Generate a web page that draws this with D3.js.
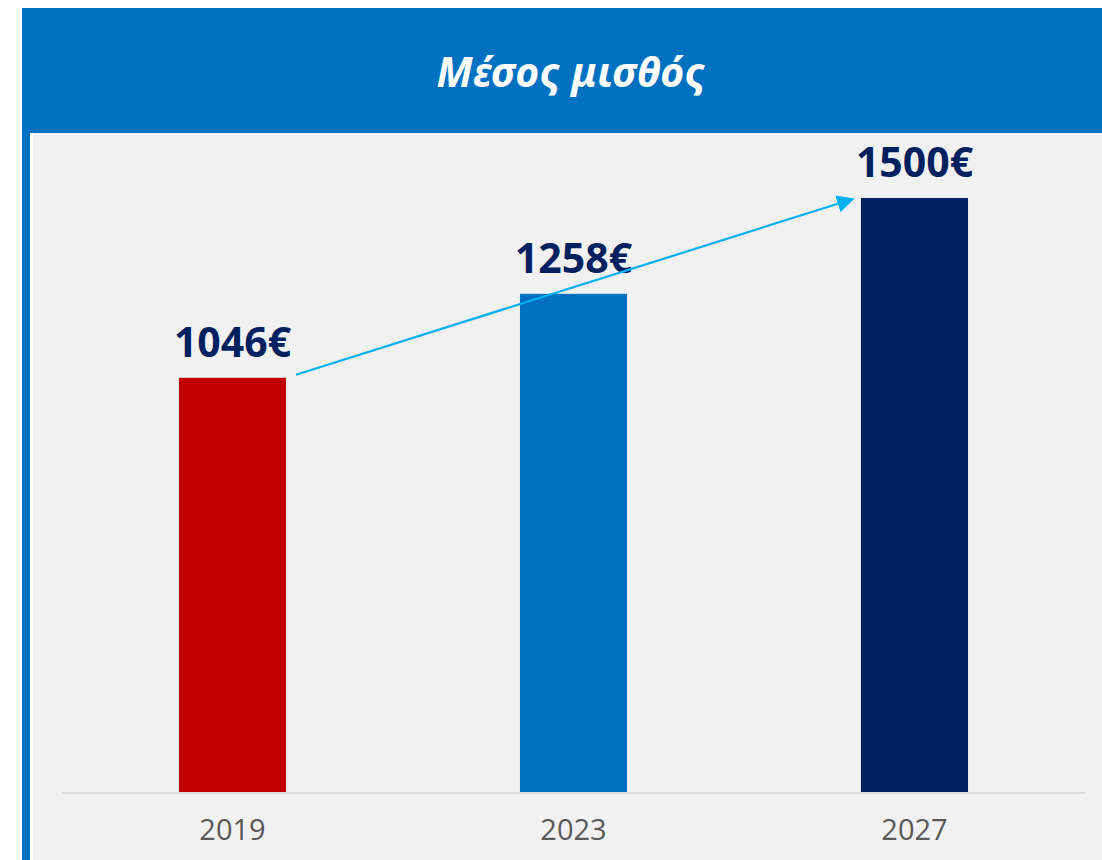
<!DOCTYPE html>
<html>
<head>
<meta charset="utf-8">
<script src="https://cdn.jsdelivr.net/npm/d3@7"></script>
<style>
  html, body { margin: 0; padding: 0; background: #ffffff; }
  svg { display: block; }
</style>
</head>
<body>
<div id="chart"></div>
<script>
// chart values
const years = ["2019", "2023", "2027"];
const salaries = [1046, 1258, 1500];
const barColors = ["#C00000", "#0070C0", "#002060"];
const chartTitle = "Μέσος μισθός";

const W = 1102, H = 860;

const svg = d3.select("#chart").append("svg")
    .attr("width", W)
    .attr("height", H);

// blue frame + header
svg.append("rect")
    .attr("x", 22).attr("y", 8)
    .attr("width", W - 22).attr("height", H - 8)
    .attr("fill", "#0070C0");

// white hairline + grey panel
svg.append("rect")
    .attr("x", 30).attr("y", 133)
    .attr("width", W - 30).attr("height", H - 133)
    .attr("fill", "#ffffff");
svg.append("rect")
    .attr("x", 33).attr("y", 133)
    .attr("width", W - 33).attr("height", H - 133)
    .attr("fill", "#F1F1F1");

svg.append("text")
    .attr("x", 571)
    .attr("y", 87)
    .attr("text-anchor", "middle")
    .attr("fill", "#ffffff")
    .style("font-family", "'Noto Sans', 'Open Sans', sans-serif")
    .style("font-weight", "bold")
    .style("font-style", "italic")
    .style("font-size", "41px")
    .text(chartTitle);

// scales
const x = d3.scaleBand()
    .domain(years)
    .range([62, 1085])
    .paddingInner(0.686)
    .paddingOuter(0.343);

const y = d3.scaleLinear()
    .domain([0, 1600])
    .range([792, 158.4]);

const data = years.map((d, i) => ({ year: d, value: salaries[i], color: barColors[i] }));

// bars
svg.selectAll(".bar")
    .data(data)
    .enter().append("rect")
    .attr("class", "bar")
    .attr("x", d => x(d.year))
    .attr("y", d => y(d.value))
    .attr("width", x.bandwidth())
    .attr("height", d => y(0) - y(d.value))
    .attr("fill", d => d.color);

// baseline
svg.append("line")
    .attr("x1", 62).attr("x2", 1085)
    .attr("y1", y(0) + 1).attr("y2", y(0) + 1)
    .attr("stroke", "#D9D9D9")
    .attr("stroke-width", 2);

// value labels
svg.selectAll(".value-label")
    .data(data)
    .enter().append("text")
    .attr("class", "value-label")
    .attr("x", d => x(d.year) + x.bandwidth() / 2)
    .attr("y", d => y(d.value) - 21)
    .attr("text-anchor", "middle")
    .attr("fill", "#002060")
    .style("font-family", "'Open Sans', 'Noto Sans', sans-serif")
    .style("font-weight", "bold")
    .style("font-size", "41px")
    .text(d => d.value + "€");

// year labels
svg.selectAll(".year-label")
    .data(data)
    .enter().append("text")
    .attr("class", "year-label")
    .attr("x", d => x(d.year) + x.bandwidth() / 2)
    .attr("y", 840)
    .attr("text-anchor", "middle")
    .attr("fill", "#595959")
    .style("font-family", "'Open Sans', 'Noto Sans', sans-serif")
    .style("font-size", "29px")
    .text(d => d.year);

// trend arrow
const defs = svg.append("defs");
defs.append("marker")
    .attr("id", "arrowhead")
    .attr("viewBox", "0 0 10 10")
    .attr("refX", 9)
    .attr("refY", 5)
    .attr("markerWidth", 8)
    .attr("markerHeight", 8)
    .attr("markerUnits", "strokeWidth")
    .attr("orient", "auto")
    .append("path")
    .attr("d", "M0,0 L10,5 L0,10 z")
    .attr("fill", "#00B0F0");

svg.append("line")
    .attr("x1", x(years[0]) + x.bandwidth() + 10)
    .attr("y1", y(salaries[0]) - 3)
    .attr("x2", x(years[2]) - 8)
    .attr("y2", y(salaries[2]) + 1)
    .attr("stroke", "#00B0F0")
    .attr("stroke-width", 2.2)
    .attr("marker-end", "url(#arrowhead)");
</script>
</body>
</html>
